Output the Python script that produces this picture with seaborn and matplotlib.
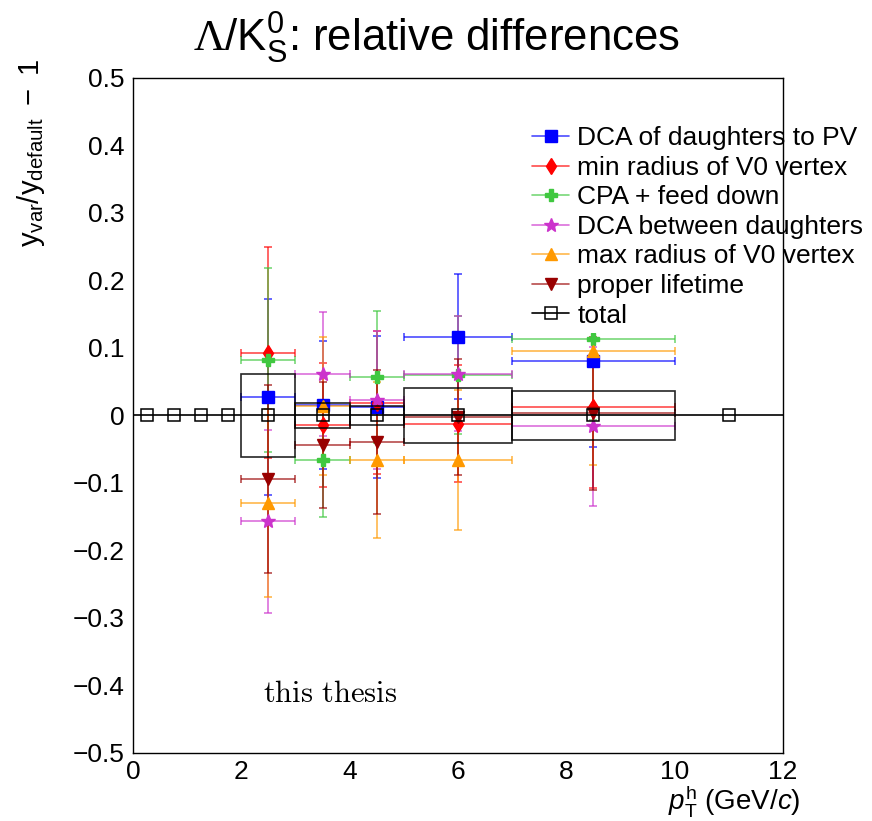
import numpy as np
import pandas as pd
import matplotlib
matplotlib.use('Agg')
import matplotlib.pyplot as plt
import seaborn as sns
from matplotlib.lines import Line2D
from matplotlib.colors import to_rgba
from matplotlib.ticker import MultipleLocator, FuncFormatter

# pT bins (GeV/c)
bin_centers = [2.5, 3.5, 4.5, 6.0, 8.5]
bin_halfwidths = [0.5, 0.5, 0.5, 1.0, 1.5]

# relative differences per variation
dca_pv = [0.027, 0.015, 0.013, 0.117, 0.080]
dca_pv_err = [0.145, 0.095, 0.105, 0.092, 0.127]
min_radius = [0.093, -0.014, 0.019, -0.012, 0.013]
min_radius_err = [0.156, 0.092, 0.106, 0.087, 0.121]
cpa_feeddown = [0.082, -0.066, 0.057, 0.060, 0.114]
cpa_feeddown_err = [0.136, 0.085, 0.098, 0.087, 0.120]
dca_daughters = [-0.157, 0.061, 0.023, 0.062, -0.016]
dca_daughters_err = [0.135, 0.092, 0.102, 0.085, 0.118]
max_radius = [-0.130, 0.014, -0.066, -0.066, 0.095]
max_radius_err = [0.139, 0.102, 0.116, 0.104, 0.169]
lifetime = [-0.094, -0.044, -0.039, -0.002, 0.003]
lifetime_err = [0.139, 0.093, 0.107, 0.086, 0.114]

# total (boxes) and the extra total points outside the bins
total_box = [0.062, 0.019, 0.014, 0.041, 0.036]
total_x = [0.25, 0.75, 1.25, 1.75, 2.5, 3.5, 4.5, 6.0, 8.5, 11.0]
total_y = [0, 0, 0, 0, 0, 0, 0, 0, 0, 0]

labels = ['DCA of daughters to PV', 'min radius of V0 vertex', 'CPA + feed down',
          'DCA between daughters', 'max radius of V0 vertex', 'proper lifetime', 'total']
colors = ['#0000ff', '#ff0000', '#40c840', '#cc33cc', '#ff9900', '#990000']
markers = ['s', 'd', 'P', '*', '^', 'v']
msizes = [8.5, 8, 9, 10, 9, 9]
values = [dca_pv, min_radius, cpa_feeddown, dca_daughters, max_radius, lifetime]
errors = [dca_pv_err, min_radius_err, cpa_feeddown_err, dca_daughters_err, max_radius_err, lifetime_err]

sns.set_theme(style='white')
plt.rcParams['font.family'] = ['Liberation Sans', 'DejaVu Sans']
plt.rcParams['text.color'] = 'black'
plt.rcParams['axes.labelcolor'] = 'black'
plt.rcParams['mathtext.fontset'] = 'custom'
plt.rcParams['mathtext.rm'] = 'Liberation Sans'
plt.rcParams['mathtext.it'] = 'Liberation Sans:italic'
plt.rcParams['mathtext.bf'] = 'Liberation Sans:bold'
plt.rcParams['mathtext.tt'] = 'Liberation Serif'

fig = plt.figure(figsize=(8.72, 8.21), dpi=100)
ax = fig.add_axes([0.15252, 0.08283, 0.74541, 0.82217])

handles = []
for vals, errs, c, m, ms in zip(values, errors, colors, markers, msizes):
    lc = to_rgba(c, 0.7)
    ax.errorbar(bin_centers, vals, xerr=bin_halfwidths, yerr=errs, fmt=m, color=c,
                ms=ms, mfc=c, mec=c, ecolor=lc, elinewidth=1.2, capsize=3,
                capthick=1.2, zorder=2)
    handles.append(Line2D([0], [0], color=lc, lw=1.2, marker=m, ms=ms, mfc=c, mec=c))

# total uncertainty boxes
tb = np.array(total_box)
ax.bar(bin_centers, 2 * tb, bottom=-tb, width=2 * np.array(bin_halfwidths),
       fill=False, edgecolor=(0, 0, 0, 0.85), linewidth=1.2, zorder=2.2)
ax.axhline(0, color='black', lw=1.2, zorder=2.1)
ax.plot(total_x, total_y, 's', ms=9, mfc='none', mec='black', mew=1.1, zorder=2.3)
handles.append(Line2D([0], [0], color='black', lw=1.2, marker='s', ms=9,
                      mfc='none', mec='black', mew=1.1))

ax.set_xlim(0, 12)
ax.set_ylim(-0.5, 0.5)
ax.xaxis.set_major_locator(MultipleLocator(2))
ax.xaxis.set_minor_locator(MultipleLocator(0.5))
ax.yaxis.set_major_locator(MultipleLocator(0.1))
ax.yaxis.set_minor_locator(MultipleLocator(0.02))
ax.yaxis.set_major_formatter(FuncFormatter(lambda v, p: f'{round(v, 1):g}'.replace('-', '\u2212')))
ax.tick_params(which='both', direction='in', top=False, right=False, colors='black',
               labelsize=19, width=1)
ax.tick_params(which='major', length=13)
ax.tick_params(which='minor', length=6.5)
ax.tick_params(axis='y', pad=6)
ax.tick_params(axis='x', pad=5)
for s in ax.spines.values():
    s.set_color('black')
    s.set_linewidth(1)
    s.set_zorder(3)

leg = ax.legend(handles, labels, loc='upper left', bbox_to_anchor=(527 / 872, 1 - 121 / 821),
                bbox_transform=fig.transFigure, fontsize=19, frameon=True,
                facecolor='white', edgecolor='none', framealpha=1, fancybox=False,
                borderpad=0.2, labelspacing=0.21, handlelength=1.4, handletextpad=0.3,
                borderaxespad=0)
leg.set_zorder(2.6)

fig.text(0.5, 1 - 38 / 821, r'$\mathtt{\Lambda}/\mathrm{K}^{0}_{\mathrm{S}}$: relative differences',
         ha='center', va='center', fontsize=31.5, color='black')
fig.text(31 / 872, 1 - 58 / 821, r'$\mathrm{y_{var}/y_{default}}\ -\ 1$', rotation=90,
         ha='center', va='top', fontsize=21, color='black')
fig.text(801 / 872, 1 - 801 / 821, r'$p_{\mathrm{T}}^{\mathrm{h}}$ (GeV/$c$)',
         ha='right', va='center', fontsize=20, color='black')
ax.text(2.4, -0.413, r'$\mathrm{this\ thesis}$', math_fontfamily='cm', fontsize=22,
        va='center', ha='left', color='black')

fig.savefig('out.png', dpi=100)
